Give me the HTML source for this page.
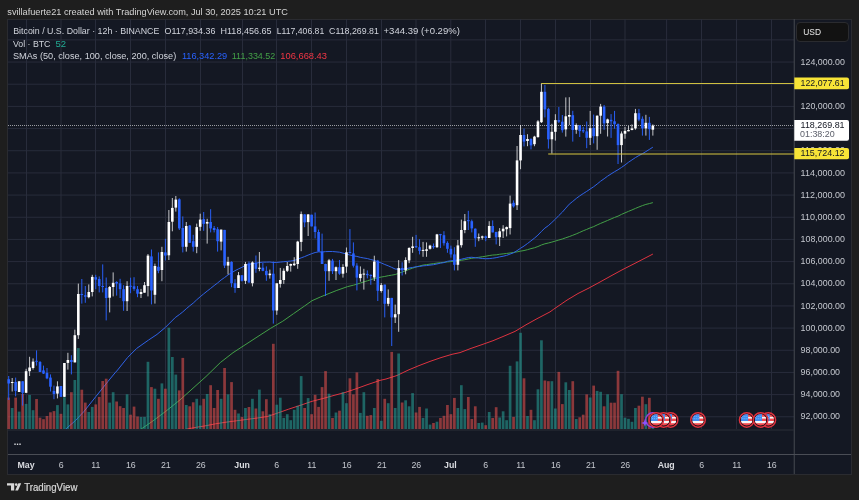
<!DOCTYPE html>
<html><head><meta charset="utf-8"><style>
*{margin:0;padding:0}
html,body{width:859px;height:500px;overflow:hidden;background:#1e1e1e}
svg text{font-family:"Liberation Sans",Arial,sans-serif}
</style></head><body>
<svg width="859" height="500" viewBox="0 0 859 500" style="position:absolute;left:0;top:0;display:block;will-change:transform">
<defs><clipPath id="pc"><rect x="8" y="19" width="786" height="410"/></clipPath></defs>
<rect x="7" y="19" width="845" height="456" fill="#2a2b30"/>
<rect x="8" y="20" width="843" height="454" fill="#141823"/>
<rect x="8" y="416.27" width="786" height="1" fill="#282c3b"/>
<rect x="8" y="394.1" width="786" height="1" fill="#282c3b"/>
<rect x="8" y="371.93" width="786" height="1" fill="#282c3b"/>
<rect x="8" y="349.76" width="786" height="1" fill="#282c3b"/>
<rect x="8" y="327.59" width="786" height="1" fill="#282c3b"/>
<rect x="8" y="305.42" width="786" height="1" fill="#282c3b"/>
<rect x="8" y="283.25" width="786" height="1" fill="#282c3b"/>
<rect x="8" y="261.08" width="786" height="1" fill="#282c3b"/>
<rect x="8" y="238.91" width="786" height="1" fill="#282c3b"/>
<rect x="8" y="216.74" width="786" height="1" fill="#282c3b"/>
<rect x="8" y="194.57" width="786" height="1" fill="#282c3b"/>
<rect x="8" y="172.4" width="786" height="1" fill="#282c3b"/>
<rect x="8" y="150.23" width="786" height="1" fill="#282c3b"/>
<rect x="8" y="128.06" width="786" height="1" fill="#282c3b"/>
<rect x="8" y="105.89" width="786" height="1" fill="#282c3b"/>
<rect x="8" y="83.72" width="786" height="1" fill="#282c3b"/>
<rect x="8" y="61.55" width="786" height="1" fill="#282c3b"/>
<rect x="8" y="39.38" width="786" height="1" fill="#282c3b"/>
<rect x="26" y="19" width="1" height="410" fill="#282c3b"/>
<rect x="60.5" y="19" width="1" height="410" fill="#282c3b"/>
<rect x="95" y="19" width="1" height="410" fill="#282c3b"/>
<rect x="130" y="19" width="1" height="410" fill="#282c3b"/>
<rect x="165" y="19" width="1" height="410" fill="#282c3b"/>
<rect x="200" y="19" width="1" height="410" fill="#282c3b"/>
<rect x="242" y="19" width="1" height="410" fill="#282c3b"/>
<rect x="276" y="19" width="1" height="410" fill="#282c3b"/>
<rect x="311" y="19" width="1" height="410" fill="#282c3b"/>
<rect x="346" y="19" width="1" height="410" fill="#282c3b"/>
<rect x="381" y="19" width="1" height="410" fill="#282c3b"/>
<rect x="415.5" y="19" width="1" height="410" fill="#282c3b"/>
<rect x="450.3" y="19" width="1" height="410" fill="#282c3b"/>
<rect x="485" y="19" width="1" height="410" fill="#282c3b"/>
<rect x="520" y="19" width="1" height="410" fill="#282c3b"/>
<rect x="555" y="19" width="1" height="410" fill="#282c3b"/>
<rect x="590" y="19" width="1" height="410" fill="#282c3b"/>
<rect x="624.5" y="19" width="1" height="410" fill="#282c3b"/>
<rect x="666.1" y="19" width="1" height="410" fill="#282c3b"/>
<rect x="701" y="19" width="1" height="410" fill="#282c3b"/>
<rect x="736" y="19" width="1" height="410" fill="#282c3b"/>
<rect x="771" y="19" width="1" height="410" fill="#282c3b"/>
<g clip-path="url(#pc)">
<polyline points="185.6,429.3 196.8,427.2 205,425.9 215.5,423.8 226,422.2 236.4,420.8 246.9,419.4 257.4,418 267.9,416.4 278.3,412.8 288.8,409.1 301,405.1 312,401.3 323,398.5 334,395.4 345,392.5 356,388.8 367,384.8 380,380.4 386,379 397,375.5 408,370.2 419,365.6 430,361.4 441,357.6 452,354.3 460,352.6 471,348.4 482,344.6 493,340.7 504,336.1 515,331.4 526,324.8 537,318.7 550,311.9 553.3,309.5 567,300.1 578,293.5 589,288 600,282 611,275.9 622,269.9 635,263.3 652.9,254.05" fill="none" stroke="#de3340" stroke-width="1" stroke-linejoin="round"/>
<polyline points="140.8,429.3 152,421.6 166,411.1 180,399.9 194,387.3 206,376.5 220.4,362.5 233,352.7 247,343.6 261,334.5 270.8,328.2 282.8,321.2 293.6,313.6 304.4,306.1 312,300.7 320.6,296.9 326,294.7 336.8,290.4 347.6,286.6 353.4,285.2 356.89,284.15 360.37,283.06 363.85,281.89 367.33,280.83 370.81,279.66 374.3,278.57 377.78,277.8 381.26,277.03 384.74,276.46 388.22,275.71 391.71,275.15 395.19,274.51 398.67,273.32 402.15,272.09 405.63,270.82 409.12,269.34 412.6,268.17 416.08,267.04 419.56,265.93 423.04,265.08 426.53,264.63 430.01,264.14 433.49,263.64 436.97,263.07 440.45,262.65 443.94,262.29 447.42,261.91 450.9,261.59 454.38,261.25 457.86,260.84 461.35,260.31 464.83,259.69 468.31,259.01 471.79,258.28 475.27,257.8 478.75,257.31 482.24,256.78 485.72,256.22 489.2,255.56 492.68,255.04 496.16,254.85 499.65,254.26 503.13,253.89 506.61,253.45 510.09,252.97 513.57,252.47 517.06,251.86 520.54,251.13 524.02,250.55 527.5,249.66 530.98,248.64 534.47,247.75 537.95,246.53 541.43,244.98 544.91,243.81 548.39,243 551.88,242.08 555.36,241.06 558.84,240 562.32,239 565.8,237.75 569.29,236.6 572.77,235.25 576.25,233.88 579.73,232.36 583.21,230.79 586.7,229.42 590.18,227.89 593.66,226.61 597.14,224.95 600.62,223.39 604.11,221.93 607.59,220.45 611.07,218.96 614.55,217.44 618.03,216.16 621.52,214.39 625,212.87 628.48,211.37 631.96,209.94 635.44,208.41 638.92,206.97 642.41,205.62 645.89,204.43 649.37,203.58 652.85,202.61" fill="none" stroke="#43a047" stroke-width="1" stroke-linejoin="round"/>
<polyline points="65.4,429.4 75.6,420.4 84,411.4 96,396.4 108,381.4 115,372.9 117.6,370 127.6,357.5 136.7,348.4 148.6,340 157,334.4 165.4,327.4 175.2,317.6 179.31,314.61 182.79,311.88 186.27,308.76 189.75,305.79 193.23,303.1 196.72,299.79 200.2,296.76 203.68,293.89 207.16,291.09 210.64,288.43 214.13,285.59 217.61,282.94 221.09,279.97 224.57,277.54 228.05,274.9 231.54,272.84 235.02,270.66 238.5,268.91 241.98,267.32 245.46,265.36 248.95,264.31 252.43,263.67 255.91,263.15 259.39,262.57 262.87,262.15 266.36,262.11 269.84,261.99 273.32,262.48 276.8,262.41 280.28,262.05 283.77,261.73 287.25,261.39 290.73,261 294.21,260.49 297.69,259.29 301.17,257.86 304.66,256.57 308.14,255.08 311.62,253.73 315.1,252.53 318.58,251.86 322.07,252.03 325.55,251.64 329.03,251.53 332.51,251.53 335.99,251.84 339.48,252.2 342.96,253.1 346.44,253.99 349.92,255.05 353.4,255.8 356.89,256.42 360.37,257.37 363.85,257.99 367.33,258.56 370.81,259.54 374.3,260.37 377.78,261.71 381.26,262.97 384.74,264.48 388.22,265.84 391.71,267.36 395.19,269.06 398.67,269.11 402.15,269.27 405.63,268.81 409.12,268.01 412.6,267.43 416.08,266.76 419.56,266.5 423.04,265.85 426.53,265.59 430.01,265.12 433.49,264.71 436.97,263.98 440.45,263.18 443.94,262.58 447.42,261.34 450.9,260.76 454.38,260.46 457.86,259.95 461.35,259.23 464.83,258.38 468.31,257.53 471.79,257.26 475.27,257.75 478.75,258.04 482.24,258.48 485.72,258.72 489.2,258.6 492.68,258.21 496.16,257.68 499.65,256.88 503.13,256.25 506.61,255.37 510.09,254.09 513.57,252.75 517.06,250.62 520.54,248.27 524.02,246.04 527.5,243.51 530.98,240.87 534.47,238.12 537.95,235.08 541.43,231.41 544.91,228.08 548.39,225.63 551.88,222.45 555.36,219.15 558.84,215.51 562.32,212.16 565.8,208.13 569.29,204.15 572.77,201.39 576.25,198.48 579.73,195.9 583.21,193.57 586.7,191.4 590.18,189.02 593.66,186.73 597.14,184.04 600.62,181.19 604.11,178.74 607.59,176.19 611.07,173.93 614.55,171.71 618.03,169.74 621.52,167.44 625,164.97 628.48,162.27 631.96,159.93 635.44,157.6 638.92,155.56 642.41,153.71 645.89,151.6 649.37,149.41 652.85,147.18" fill="none" stroke="#2f62e8" stroke-width="1" stroke-linejoin="round"/>
</g>
<rect x="7.34" y="397.6" width="2.7" height="31.4" fill="rgba(239,83,80,0.55)"/>
<rect x="10.82" y="408" width="2.7" height="21" fill="rgba(38,166,154,0.55)"/>
<rect x="14.3" y="397.6" width="2.7" height="31.4" fill="rgba(239,83,80,0.55)"/>
<rect x="17.79" y="411.6" width="2.7" height="17.4" fill="rgba(38,166,154,0.55)"/>
<rect x="21.27" y="394" width="2.7" height="35" fill="rgba(239,83,80,0.55)"/>
<rect x="24.75" y="403.9" width="2.7" height="25.1" fill="rgba(38,166,154,0.55)"/>
<rect x="28.23" y="394.9" width="2.7" height="34.1" fill="rgba(38,166,154,0.55)"/>
<rect x="31.71" y="410.2" width="2.7" height="18.8" fill="rgba(38,166,154,0.55)"/>
<rect x="35.2" y="399" width="2.7" height="30" fill="rgba(239,83,80,0.55)"/>
<rect x="38.68" y="417.7" width="2.7" height="11.3" fill="rgba(239,83,80,0.55)"/>
<rect x="42.16" y="419.2" width="2.7" height="9.8" fill="rgba(239,83,80,0.55)"/>
<rect x="45.64" y="416" width="2.7" height="13" fill="rgba(239,83,80,0.55)"/>
<rect x="49.12" y="412.3" width="2.7" height="16.7" fill="rgba(239,83,80,0.55)"/>
<rect x="52.61" y="411.1" width="2.7" height="17.9" fill="rgba(239,83,80,0.55)"/>
<rect x="56.09" y="405.1" width="2.7" height="23.9" fill="rgba(38,166,154,0.55)"/>
<rect x="59.57" y="413.8" width="2.7" height="15.2" fill="rgba(239,83,80,0.55)"/>
<rect x="63.05" y="397.2" width="2.7" height="31.8" fill="rgba(38,166,154,0.55)"/>
<rect x="66.53" y="404.4" width="2.7" height="24.6" fill="rgba(38,166,154,0.55)"/>
<rect x="70.02" y="392.2" width="2.7" height="36.8" fill="rgba(239,83,80,0.55)"/>
<rect x="73.5" y="380" width="2.7" height="49" fill="rgba(38,166,154,0.55)"/>
<rect x="76.98" y="348.1" width="2.7" height="80.9" fill="rgba(38,166,154,0.55)"/>
<rect x="80.46" y="389.7" width="2.7" height="39.3" fill="rgba(239,83,80,0.55)"/>
<rect x="83.94" y="402.6" width="2.7" height="26.4" fill="rgba(239,83,80,0.55)"/>
<rect x="87.43" y="412" width="2.7" height="17" fill="rgba(38,166,154,0.55)"/>
<rect x="90.91" y="406.9" width="2.7" height="22.1" fill="rgba(38,166,154,0.55)"/>
<rect x="94.39" y="404.4" width="2.7" height="24.6" fill="rgba(239,83,80,0.55)"/>
<rect x="97.87" y="396.9" width="2.7" height="32.1" fill="rgba(239,83,80,0.55)"/>
<rect x="101.35" y="381" width="2.7" height="48" fill="rgba(239,83,80,0.55)"/>
<rect x="104.84" y="378.7" width="2.7" height="50.3" fill="rgba(239,83,80,0.55)"/>
<rect x="108.32" y="402.6" width="2.7" height="26.4" fill="rgba(38,166,154,0.55)"/>
<rect x="111.8" y="392.2" width="2.7" height="36.8" fill="rgba(38,166,154,0.55)"/>
<rect x="115.28" y="401.5" width="2.7" height="27.5" fill="rgba(239,83,80,0.55)"/>
<rect x="118.76" y="406.2" width="2.7" height="22.8" fill="rgba(239,83,80,0.55)"/>
<rect x="122.24" y="408" width="2.7" height="21" fill="rgba(239,83,80,0.55)"/>
<rect x="125.73" y="394.3" width="2.7" height="34.7" fill="rgba(38,166,154,0.55)"/>
<rect x="129.21" y="414.7" width="2.7" height="14.3" fill="rgba(239,83,80,0.55)"/>
<rect x="132.69" y="406.6" width="2.7" height="22.4" fill="rgba(239,83,80,0.55)"/>
<rect x="136.17" y="416.5" width="2.7" height="12.5" fill="rgba(239,83,80,0.55)"/>
<rect x="139.65" y="417" width="2.7" height="12" fill="rgba(38,166,154,0.55)"/>
<rect x="143.14" y="416.9" width="2.7" height="12.1" fill="rgba(38,166,154,0.55)"/>
<rect x="146.62" y="361.8" width="2.7" height="67.2" fill="rgba(38,166,154,0.55)"/>
<rect x="150.1" y="387.1" width="2.7" height="41.9" fill="rgba(239,83,80,0.55)"/>
<rect x="153.58" y="388.7" width="2.7" height="40.3" fill="rgba(38,166,154,0.55)"/>
<rect x="157.06" y="398.8" width="2.7" height="30.2" fill="rgba(239,83,80,0.55)"/>
<rect x="160.55" y="383.4" width="2.7" height="45.6" fill="rgba(38,166,154,0.55)"/>
<rect x="164.03" y="388.7" width="2.7" height="40.3" fill="rgba(239,83,80,0.55)"/>
<rect x="167.51" y="327.7" width="2.7" height="101.3" fill="rgba(38,166,154,0.55)"/>
<rect x="170.99" y="357" width="2.7" height="72" fill="rgba(38,166,154,0.55)"/>
<rect x="174.47" y="374.6" width="2.7" height="54.4" fill="rgba(38,166,154,0.55)"/>
<rect x="177.96" y="390.4" width="2.7" height="38.6" fill="rgba(239,83,80,0.55)"/>
<rect x="181.44" y="357.9" width="2.7" height="71.1" fill="rgba(239,83,80,0.55)"/>
<rect x="184.92" y="405" width="2.7" height="24" fill="rgba(38,166,154,0.55)"/>
<rect x="188.4" y="406.3" width="2.7" height="22.7" fill="rgba(239,83,80,0.55)"/>
<rect x="191.88" y="402.3" width="2.7" height="26.7" fill="rgba(239,83,80,0.55)"/>
<rect x="195.37" y="398.8" width="2.7" height="30.2" fill="rgba(38,166,154,0.55)"/>
<rect x="198.85" y="405.4" width="2.7" height="23.6" fill="rgba(38,166,154,0.55)"/>
<rect x="202.33" y="398.8" width="2.7" height="30.2" fill="rgba(239,83,80,0.55)"/>
<rect x="205.81" y="394" width="2.7" height="35" fill="rgba(38,166,154,0.55)"/>
<rect x="209.29" y="385.2" width="2.7" height="43.8" fill="rgba(239,83,80,0.55)"/>
<rect x="212.78" y="408" width="2.7" height="21" fill="rgba(239,83,80,0.55)"/>
<rect x="216.26" y="390" width="2.7" height="39" fill="rgba(239,83,80,0.55)"/>
<rect x="219.74" y="398.8" width="2.7" height="30.2" fill="rgba(38,166,154,0.55)"/>
<rect x="223.22" y="368" width="2.7" height="61" fill="rgba(239,83,80,0.55)"/>
<rect x="226.7" y="394.4" width="2.7" height="34.6" fill="rgba(38,166,154,0.55)"/>
<rect x="230.19" y="382.1" width="2.7" height="46.9" fill="rgba(239,83,80,0.55)"/>
<rect x="233.67" y="409.8" width="2.7" height="19.2" fill="rgba(239,83,80,0.55)"/>
<rect x="237.15" y="413.5" width="2.7" height="15.5" fill="rgba(38,166,154,0.55)"/>
<rect x="240.63" y="416.9" width="2.7" height="12.1" fill="rgba(239,83,80,0.55)"/>
<rect x="244.11" y="408" width="2.7" height="21" fill="rgba(38,166,154,0.55)"/>
<rect x="247.6" y="407" width="2.7" height="22" fill="rgba(239,83,80,0.55)"/>
<rect x="251.08" y="398.8" width="2.7" height="30.2" fill="rgba(38,166,154,0.55)"/>
<rect x="254.56" y="408.5" width="2.7" height="20.5" fill="rgba(239,83,80,0.55)"/>
<rect x="258.04" y="389.6" width="2.7" height="39.4" fill="rgba(38,166,154,0.55)"/>
<rect x="261.52" y="411.3" width="2.7" height="17.7" fill="rgba(239,83,80,0.55)"/>
<rect x="265.01" y="399.2" width="2.7" height="29.8" fill="rgba(239,83,80,0.55)"/>
<rect x="268.49" y="414.2" width="2.7" height="14.8" fill="rgba(38,166,154,0.55)"/>
<rect x="271.97" y="343.8" width="2.7" height="85.2" fill="rgba(239,83,80,0.55)"/>
<rect x="275.45" y="404.7" width="2.7" height="24.3" fill="rgba(38,166,154,0.55)"/>
<rect x="278.93" y="397.7" width="2.7" height="31.3" fill="rgba(38,166,154,0.55)"/>
<rect x="282.42" y="418" width="2.7" height="11" fill="rgba(38,166,154,0.55)"/>
<rect x="285.9" y="414.2" width="2.7" height="14.8" fill="rgba(38,166,154,0.55)"/>
<rect x="289.38" y="420.2" width="2.7" height="8.8" fill="rgba(38,166,154,0.55)"/>
<rect x="292.86" y="409.8" width="2.7" height="19.2" fill="rgba(38,166,154,0.55)"/>
<rect x="296.34" y="405.8" width="2.7" height="23.2" fill="rgba(38,166,154,0.55)"/>
<rect x="299.82" y="376.1" width="2.7" height="52.9" fill="rgba(38,166,154,0.55)"/>
<rect x="303.31" y="408" width="2.7" height="21" fill="rgba(239,83,80,0.55)"/>
<rect x="306.79" y="398.1" width="2.7" height="30.9" fill="rgba(38,166,154,0.55)"/>
<rect x="310.27" y="414.2" width="2.7" height="14.8" fill="rgba(239,83,80,0.55)"/>
<rect x="313.75" y="394.8" width="2.7" height="34.2" fill="rgba(239,83,80,0.55)"/>
<rect x="317.23" y="406.9" width="2.7" height="22.1" fill="rgba(239,83,80,0.55)"/>
<rect x="320.72" y="387.1" width="2.7" height="41.9" fill="rgba(239,83,80,0.55)"/>
<rect x="324.2" y="371.1" width="2.7" height="57.9" fill="rgba(239,83,80,0.55)"/>
<rect x="327.68" y="393.7" width="2.7" height="35.3" fill="rgba(38,166,154,0.55)"/>
<rect x="331.16" y="418" width="2.7" height="11" fill="rgba(239,83,80,0.55)"/>
<rect x="334.64" y="412.5" width="2.7" height="16.5" fill="rgba(38,166,154,0.55)"/>
<rect x="338.13" y="410.7" width="2.7" height="18.3" fill="rgba(239,83,80,0.55)"/>
<rect x="341.61" y="392.2" width="2.7" height="36.8" fill="rgba(38,166,154,0.55)"/>
<rect x="345.09" y="403.2" width="2.7" height="25.8" fill="rgba(38,166,154,0.55)"/>
<rect x="348.57" y="378.3" width="2.7" height="50.7" fill="rgba(239,83,80,0.55)"/>
<rect x="352.05" y="394.4" width="2.7" height="34.6" fill="rgba(239,83,80,0.55)"/>
<rect x="355.54" y="372.4" width="2.7" height="56.6" fill="rgba(239,83,80,0.55)"/>
<rect x="359.02" y="412.9" width="2.7" height="16.1" fill="rgba(38,166,154,0.55)"/>
<rect x="362.5" y="392.2" width="2.7" height="36.8" fill="rgba(38,166,154,0.55)"/>
<rect x="365.98" y="415.8" width="2.7" height="13.2" fill="rgba(239,83,80,0.55)"/>
<rect x="369.46" y="415.1" width="2.7" height="13.9" fill="rgba(239,83,80,0.55)"/>
<rect x="372.95" y="408" width="2.7" height="21" fill="rgba(38,166,154,0.55)"/>
<rect x="376.43" y="379" width="2.7" height="50" fill="rgba(239,83,80,0.55)"/>
<rect x="379.91" y="420.8" width="2.7" height="8.2" fill="rgba(38,166,154,0.55)"/>
<rect x="383.39" y="398.8" width="2.7" height="30.2" fill="rgba(239,83,80,0.55)"/>
<rect x="386.87" y="403.2" width="2.7" height="25.8" fill="rgba(38,166,154,0.55)"/>
<rect x="390.36" y="351.9" width="2.7" height="77.1" fill="rgba(239,83,80,0.55)"/>
<rect x="393.84" y="408" width="2.7" height="21" fill="rgba(38,166,154,0.55)"/>
<rect x="397.32" y="353.5" width="2.7" height="75.5" fill="rgba(38,166,154,0.55)"/>
<rect x="400.8" y="402.5" width="2.7" height="26.5" fill="rgba(239,83,80,0.55)"/>
<rect x="404.28" y="400.3" width="2.7" height="28.7" fill="rgba(38,166,154,0.55)"/>
<rect x="407.77" y="406.3" width="2.7" height="22.7" fill="rgba(38,166,154,0.55)"/>
<rect x="411.25" y="393.1" width="2.7" height="35.9" fill="rgba(38,166,154,0.55)"/>
<rect x="414.73" y="412.5" width="2.7" height="16.5" fill="rgba(239,83,80,0.55)"/>
<rect x="418.21" y="406.9" width="2.7" height="22.1" fill="rgba(239,83,80,0.55)"/>
<rect x="421.69" y="418" width="2.7" height="11" fill="rgba(38,166,154,0.55)"/>
<rect x="425.18" y="408.5" width="2.7" height="20.5" fill="rgba(38,166,154,0.55)"/>
<rect x="428.66" y="424.6" width="2.7" height="4.4" fill="rgba(38,166,154,0.55)"/>
<rect x="432.14" y="423" width="2.7" height="6" fill="rgba(239,83,80,0.55)"/>
<rect x="435.62" y="421.7" width="2.7" height="7.3" fill="rgba(38,166,154,0.55)"/>
<rect x="439.1" y="418" width="2.7" height="11" fill="rgba(239,83,80,0.55)"/>
<rect x="442.59" y="415.8" width="2.7" height="13.2" fill="rgba(239,83,80,0.55)"/>
<rect x="446.07" y="405" width="2.7" height="24" fill="rgba(239,83,80,0.55)"/>
<rect x="449.55" y="414.2" width="2.7" height="14.8" fill="rgba(239,83,80,0.55)"/>
<rect x="453.03" y="397.9" width="2.7" height="31.1" fill="rgba(239,83,80,0.55)"/>
<rect x="456.51" y="408" width="2.7" height="21" fill="rgba(38,166,154,0.55)"/>
<rect x="460" y="385.2" width="2.7" height="43.8" fill="rgba(38,166,154,0.55)"/>
<rect x="463.48" y="409.1" width="2.7" height="19.9" fill="rgba(38,166,154,0.55)"/>
<rect x="466.96" y="397" width="2.7" height="32" fill="rgba(239,83,80,0.55)"/>
<rect x="470.44" y="419" width="2.7" height="10" fill="rgba(239,83,80,0.55)"/>
<rect x="473.92" y="406.3" width="2.7" height="22.7" fill="rgba(239,83,80,0.55)"/>
<rect x="477.4" y="423" width="2.7" height="6" fill="rgba(38,166,154,0.55)"/>
<rect x="480.89" y="422.6" width="2.7" height="6.4" fill="rgba(38,166,154,0.55)"/>
<rect x="484.37" y="425.2" width="2.7" height="3.8" fill="rgba(239,83,80,0.55)"/>
<rect x="487.85" y="412" width="2.7" height="17" fill="rgba(38,166,154,0.55)"/>
<rect x="491.33" y="418" width="2.7" height="11" fill="rgba(239,83,80,0.55)"/>
<rect x="494.81" y="407.2" width="2.7" height="21.8" fill="rgba(239,83,80,0.55)"/>
<rect x="498.3" y="417.5" width="2.7" height="11.5" fill="rgba(38,166,154,0.55)"/>
<rect x="501.78" y="411.3" width="2.7" height="17.7" fill="rgba(38,166,154,0.55)"/>
<rect x="505.26" y="420.2" width="2.7" height="8.8" fill="rgba(38,166,154,0.55)"/>
<rect x="508.74" y="365.8" width="2.7" height="63.2" fill="rgba(38,166,154,0.55)"/>
<rect x="512.22" y="416.9" width="2.7" height="12.1" fill="rgba(239,83,80,0.55)"/>
<rect x="515.71" y="361.4" width="2.7" height="67.6" fill="rgba(38,166,154,0.55)"/>
<rect x="519.19" y="332.8" width="2.7" height="96.2" fill="rgba(38,166,154,0.55)"/>
<rect x="522.67" y="378.3" width="2.7" height="50.7" fill="rgba(239,83,80,0.55)"/>
<rect x="526.15" y="416" width="2.7" height="13" fill="rgba(38,166,154,0.55)"/>
<rect x="529.63" y="409.8" width="2.7" height="19.2" fill="rgba(239,83,80,0.55)"/>
<rect x="533.12" y="420.2" width="2.7" height="8.8" fill="rgba(38,166,154,0.55)"/>
<rect x="536.6" y="389.3" width="2.7" height="39.7" fill="rgba(38,166,154,0.55)"/>
<rect x="540.08" y="340.3" width="2.7" height="88.7" fill="rgba(38,166,154,0.55)"/>
<rect x="543.56" y="380.5" width="2.7" height="48.5" fill="rgba(239,83,80,0.55)"/>
<rect x="547.04" y="381.2" width="2.7" height="47.8" fill="rgba(239,83,80,0.55)"/>
<rect x="550.53" y="381.2" width="2.7" height="47.8" fill="rgba(38,166,154,0.55)"/>
<rect x="554.01" y="408.5" width="2.7" height="20.5" fill="rgba(38,166,154,0.55)"/>
<rect x="557.49" y="371.9" width="2.7" height="57.1" fill="rgba(239,83,80,0.55)"/>
<rect x="560.97" y="404.1" width="2.7" height="24.9" fill="rgba(239,83,80,0.55)"/>
<rect x="564.45" y="382.3" width="2.7" height="46.7" fill="rgba(38,166,154,0.55)"/>
<rect x="567.94" y="390" width="2.7" height="39" fill="rgba(38,166,154,0.55)"/>
<rect x="571.42" y="381.2" width="2.7" height="47.8" fill="rgba(239,83,80,0.55)"/>
<rect x="574.9" y="419" width="2.7" height="10" fill="rgba(38,166,154,0.55)"/>
<rect x="578.38" y="417.3" width="2.7" height="11.7" fill="rgba(239,83,80,0.55)"/>
<rect x="581.86" y="414.7" width="2.7" height="14.3" fill="rgba(239,83,80,0.55)"/>
<rect x="585.35" y="394.4" width="2.7" height="34.6" fill="rgba(239,83,80,0.55)"/>
<rect x="588.83" y="397.5" width="2.7" height="31.5" fill="rgba(38,166,154,0.55)"/>
<rect x="592.31" y="385.6" width="2.7" height="43.4" fill="rgba(239,83,80,0.55)"/>
<rect x="595.79" y="390.9" width="2.7" height="38.1" fill="rgba(38,166,154,0.55)"/>
<rect x="599.27" y="391.8" width="2.7" height="37.2" fill="rgba(38,166,154,0.55)"/>
<rect x="602.76" y="406.3" width="2.7" height="22.7" fill="rgba(239,83,80,0.55)"/>
<rect x="606.24" y="394.3" width="2.7" height="34.7" fill="rgba(38,166,154,0.55)"/>
<rect x="609.72" y="402.7" width="2.7" height="26.3" fill="rgba(239,83,80,0.55)"/>
<rect x="613.2" y="402.7" width="2.7" height="26.3" fill="rgba(239,83,80,0.55)"/>
<rect x="616.68" y="370.8" width="2.7" height="58.2" fill="rgba(239,83,80,0.55)"/>
<rect x="620.17" y="394.2" width="2.7" height="34.8" fill="rgba(38,166,154,0.55)"/>
<rect x="623.65" y="417.7" width="2.7" height="11.3" fill="rgba(38,166,154,0.55)"/>
<rect x="627.13" y="418.8" width="2.7" height="10.2" fill="rgba(38,166,154,0.55)"/>
<rect x="630.61" y="421.8" width="2.7" height="7.2" fill="rgba(38,166,154,0.55)"/>
<rect x="634.09" y="408" width="2.7" height="21" fill="rgba(38,166,154,0.55)"/>
<rect x="637.57" y="405.7" width="2.7" height="23.3" fill="rgba(239,83,80,0.55)"/>
<rect x="641.06" y="396.7" width="2.7" height="32.3" fill="rgba(239,83,80,0.55)"/>
<rect x="644.54" y="404.2" width="2.7" height="24.8" fill="rgba(38,166,154,0.55)"/>
<rect x="648.02" y="397.8" width="2.7" height="31.2" fill="rgba(239,83,80,0.55)"/>
<rect x="651.5" y="420" width="2.7" height="9" fill="rgba(38,166,154,0.55)"/>
<line x1="8" y1="125.5" x2="794" y2="125.5" stroke="#9a9ca2" stroke-width="1" stroke-dasharray="1 1"/>
<rect x="8.19" y="376" width="1" height="24" fill="rgba(41,98,255,0.95)"/>
<rect x="7.39" y="379.2" width="2.6" height="4.3" fill="#2962ff"/>
<rect x="11.67" y="378" width="1" height="13.5" fill="rgba(255,255,255,0.75)"/>
<rect x="10.87" y="382" width="2.6" height="1" fill="#ffffff"/>
<rect x="15.15" y="377.6" width="1" height="18.7" fill="rgba(41,98,255,0.95)"/>
<rect x="14.35" y="381.9" width="2.6" height="9" fill="#2962ff"/>
<rect x="18.64" y="381" width="1" height="11" fill="rgba(255,255,255,0.75)"/>
<rect x="17.84" y="381.3" width="2.6" height="10.7" fill="#ffffff"/>
<rect x="22.12" y="381" width="1" height="24.6" fill="rgba(41,98,255,0.95)"/>
<rect x="21.32" y="381.3" width="2.6" height="11.5" fill="#2962ff"/>
<rect x="25.6" y="368.8" width="1" height="24" fill="rgba(255,255,255,0.75)"/>
<rect x="24.8" y="371.2" width="2.6" height="21.6" fill="#ffffff"/>
<rect x="29.08" y="356.8" width="1" height="19.2" fill="rgba(255,255,255,0.75)"/>
<rect x="28.28" y="367.5" width="2.6" height="3.7" fill="#ffffff"/>
<rect x="32.56" y="358.4" width="1" height="11.2" fill="rgba(255,255,255,0.75)"/>
<rect x="31.76" y="361.6" width="2.6" height="6.4" fill="#ffffff"/>
<rect x="36.05" y="350.4" width="1" height="15.2" fill="rgba(41,98,255,0.95)"/>
<rect x="35.25" y="360.8" width="2.6" height="1" fill="#2962ff"/>
<rect x="39.53" y="361" width="1" height="11" fill="rgba(41,98,255,0.95)"/>
<rect x="38.73" y="362" width="2.6" height="10" fill="#2962ff"/>
<rect x="43.01" y="365.6" width="1" height="8.4" fill="rgba(41,98,255,0.95)"/>
<rect x="42.21" y="370.4" width="2.6" height="3.2" fill="#2962ff"/>
<rect x="46.49" y="368" width="1" height="11.2" fill="rgba(41,98,255,0.95)"/>
<rect x="45.69" y="372.8" width="2.6" height="5.6" fill="#2962ff"/>
<rect x="49.97" y="374.4" width="1" height="17.1" fill="rgba(41,98,255,0.95)"/>
<rect x="49.17" y="377.6" width="2.6" height="9.1" fill="#2962ff"/>
<rect x="53.46" y="385.6" width="1" height="13.6" fill="rgba(41,98,255,0.95)"/>
<rect x="52.66" y="390.9" width="2.6" height="3.1" fill="#2962ff"/>
<rect x="56.94" y="381.3" width="1" height="17.1" fill="rgba(255,255,255,0.75)"/>
<rect x="56.14" y="386.4" width="2.6" height="7.2" fill="#ffffff"/>
<rect x="60.42" y="386" width="1" height="11" fill="rgba(41,98,255,0.95)"/>
<rect x="59.62" y="386" width="2.6" height="10.8" fill="#2962ff"/>
<rect x="63.9" y="363" width="1" height="34" fill="rgba(255,255,255,0.75)"/>
<rect x="63.1" y="363" width="2.6" height="33.8" fill="#ffffff"/>
<rect x="67.38" y="352.8" width="1" height="16.8" fill="rgba(255,255,255,0.75)"/>
<rect x="66.58" y="360" width="2.6" height="2.9" fill="#ffffff"/>
<rect x="70.87" y="355.2" width="1" height="19.2" fill="rgba(41,98,255,0.95)"/>
<rect x="70.07" y="360" width="2.6" height="2" fill="#2962ff"/>
<rect x="74.35" y="329.6" width="1" height="32.8" fill="rgba(255,255,255,0.75)"/>
<rect x="73.55" y="335.2" width="2.6" height="27.2" fill="#ffffff"/>
<rect x="77.83" y="283.6" width="1" height="55.3" fill="rgba(255,255,255,0.75)"/>
<rect x="77.03" y="294" width="2.6" height="41.2" fill="#ffffff"/>
<rect x="81.31" y="279" width="1" height="24.6" fill="rgba(41,98,255,0.95)"/>
<rect x="80.51" y="294" width="2.6" height="1" fill="#2962ff"/>
<rect x="84.79" y="286" width="1" height="16.8" fill="rgba(41,98,255,0.95)"/>
<rect x="83.99" y="295.3" width="2.6" height="1.4" fill="#2962ff"/>
<rect x="88.28" y="284.4" width="1" height="13.9" fill="rgba(255,255,255,0.75)"/>
<rect x="87.48" y="292" width="2.6" height="5.2" fill="#ffffff"/>
<rect x="91.76" y="274.8" width="1" height="21.6" fill="rgba(255,255,255,0.75)"/>
<rect x="90.96" y="276.9" width="2.6" height="15.1" fill="#ffffff"/>
<rect x="95.24" y="274.8" width="1" height="14.4" fill="rgba(41,98,255,0.95)"/>
<rect x="94.44" y="277.2" width="2.6" height="2.4" fill="#2962ff"/>
<rect x="98.72" y="276.4" width="1" height="16" fill="rgba(41,98,255,0.95)"/>
<rect x="97.92" y="279" width="2.6" height="7" fill="#2962ff"/>
<rect x="102.2" y="264.4" width="1" height="28" fill="rgba(41,98,255,0.95)"/>
<rect x="101.4" y="286" width="2.6" height="1" fill="#2962ff"/>
<rect x="105.69" y="277.5" width="1" height="42.9" fill="rgba(41,98,255,0.95)"/>
<rect x="104.89" y="288" width="2.6" height="10" fill="#2962ff"/>
<rect x="109.17" y="286" width="1" height="26.4" fill="rgba(255,255,255,0.75)"/>
<rect x="108.37" y="287" width="2.6" height="10.7" fill="#ffffff"/>
<rect x="112.65" y="272.4" width="1" height="24" fill="rgba(255,255,255,0.75)"/>
<rect x="111.85" y="282.8" width="2.6" height="4.2" fill="#ffffff"/>
<rect x="116.13" y="281.2" width="1" height="14.4" fill="rgba(41,98,255,0.95)"/>
<rect x="115.33" y="282" width="2.6" height="1.6" fill="#2962ff"/>
<rect x="119.61" y="278.8" width="1" height="19.2" fill="rgba(41,98,255,0.95)"/>
<rect x="118.81" y="283.3" width="2.6" height="5.9" fill="#2962ff"/>
<rect x="123.09" y="285.2" width="1" height="25.6" fill="rgba(41,98,255,0.95)"/>
<rect x="122.29" y="289.2" width="2.6" height="12" fill="#2962ff"/>
<rect x="126.58" y="281.2" width="1" height="29.8" fill="rgba(255,255,255,0.75)"/>
<rect x="125.78" y="286" width="2.6" height="15.2" fill="#ffffff"/>
<rect x="130.06" y="277.7" width="1" height="15.5" fill="rgba(41,98,255,0.95)"/>
<rect x="129.26" y="285.7" width="2.6" height="1.1" fill="#2962ff"/>
<rect x="133.54" y="277.2" width="1" height="13.6" fill="rgba(41,98,255,0.95)"/>
<rect x="132.74" y="286.3" width="2.6" height="2.6" fill="#2962ff"/>
<rect x="137.02" y="286" width="1" height="11.2" fill="rgba(41,98,255,0.95)"/>
<rect x="136.22" y="289.2" width="2.6" height="4.5" fill="#2962ff"/>
<rect x="140.5" y="288.9" width="1" height="9.1" fill="rgba(255,255,255,0.75)"/>
<rect x="139.7" y="292" width="2.6" height="2" fill="#ffffff"/>
<rect x="143.99" y="282" width="1" height="10.7" fill="rgba(255,255,255,0.75)"/>
<rect x="143.19" y="285.2" width="2.6" height="7.5" fill="#ffffff"/>
<rect x="147.47" y="254" width="1" height="42.4" fill="rgba(255,255,255,0.75)"/>
<rect x="146.67" y="255.6" width="2.6" height="30.4" fill="#ffffff"/>
<rect x="150.95" y="249.5" width="1" height="54.9" fill="rgba(41,98,255,0.95)"/>
<rect x="150.15" y="256.4" width="2.6" height="34.1" fill="#2962ff"/>
<rect x="154.43" y="263.6" width="1" height="40" fill="rgba(255,255,255,0.75)"/>
<rect x="153.63" y="266" width="2.6" height="28.8" fill="#ffffff"/>
<rect x="157.91" y="252.4" width="1" height="20.8" fill="rgba(41,98,255,0.95)"/>
<rect x="157.11" y="266.8" width="2.6" height="4" fill="#2962ff"/>
<rect x="161.4" y="246.8" width="1" height="34.4" fill="rgba(255,255,255,0.75)"/>
<rect x="160.6" y="252" width="2.6" height="18" fill="#ffffff"/>
<rect x="164.88" y="238.8" width="1" height="21.6" fill="rgba(41,98,255,0.95)"/>
<rect x="164.08" y="252.4" width="2.6" height="3.2" fill="#2962ff"/>
<rect x="168.36" y="210" width="1" height="50" fill="rgba(255,255,255,0.75)"/>
<rect x="167.56" y="222" width="2.6" height="33.3" fill="#ffffff"/>
<rect x="171.84" y="198" width="1" height="33.3" fill="rgba(255,255,255,0.75)"/>
<rect x="171.04" y="207.9" width="2.6" height="13.8" fill="#ffffff"/>
<rect x="175.32" y="196" width="1" height="15.6" fill="rgba(255,255,255,0.75)"/>
<rect x="174.52" y="199.6" width="2.6" height="8" fill="#ffffff"/>
<rect x="178.81" y="198.3" width="1" height="31.7" fill="rgba(41,98,255,0.95)"/>
<rect x="178.01" y="199.3" width="2.6" height="29.1" fill="#2962ff"/>
<rect x="182.29" y="216.4" width="1" height="36" fill="rgba(41,98,255,0.95)"/>
<rect x="181.49" y="228" width="2.6" height="18.8" fill="#2962ff"/>
<rect x="185.77" y="222" width="1" height="29.6" fill="rgba(255,255,255,0.75)"/>
<rect x="184.97" y="226" width="2.6" height="20.8" fill="#ffffff"/>
<rect x="189.25" y="225" width="1" height="18" fill="rgba(41,98,255,0.95)"/>
<rect x="188.45" y="225.5" width="2.6" height="17.3" fill="#2962ff"/>
<rect x="192.73" y="234.8" width="1" height="16.8" fill="rgba(41,98,255,0.95)"/>
<rect x="191.93" y="241.2" width="2.6" height="5.6" fill="#2962ff"/>
<rect x="196.22" y="223.6" width="1" height="29.6" fill="rgba(255,255,255,0.75)"/>
<rect x="195.42" y="227.1" width="2.6" height="19.7" fill="#ffffff"/>
<rect x="199.7" y="213.7" width="1" height="17.1" fill="rgba(255,255,255,0.75)"/>
<rect x="198.9" y="219.6" width="2.6" height="7.2" fill="#ffffff"/>
<rect x="203.18" y="212" width="1" height="18.8" fill="rgba(41,98,255,0.95)"/>
<rect x="202.38" y="219.1" width="2.6" height="4.8" fill="#2962ff"/>
<rect x="206.66" y="218.8" width="1" height="24.8" fill="rgba(255,255,255,0.75)"/>
<rect x="205.86" y="222" width="2.6" height="1.6" fill="#ffffff"/>
<rect x="210.14" y="209.2" width="1" height="23.2" fill="rgba(41,98,255,0.95)"/>
<rect x="209.34" y="222" width="2.6" height="6.4" fill="#2962ff"/>
<rect x="213.63" y="226" width="1" height="6.4" fill="rgba(41,98,255,0.95)"/>
<rect x="212.83" y="228" width="2.6" height="2" fill="#2962ff"/>
<rect x="217.11" y="227.1" width="1" height="24.5" fill="rgba(41,98,255,0.95)"/>
<rect x="216.31" y="229.2" width="2.6" height="12" fill="#2962ff"/>
<rect x="220.59" y="229.6" width="1" height="20.8" fill="rgba(255,255,255,0.75)"/>
<rect x="219.79" y="229.6" width="2.6" height="12" fill="#ffffff"/>
<rect x="224.07" y="229.9" width="1" height="38.1" fill="rgba(41,98,255,0.95)"/>
<rect x="223.27" y="229.9" width="2.6" height="35.7" fill="#2962ff"/>
<rect x="227.55" y="256.8" width="1" height="17.6" fill="rgba(255,255,255,0.75)"/>
<rect x="226.75" y="261.9" width="2.6" height="3.7" fill="#ffffff"/>
<rect x="231.04" y="261.3" width="1" height="25.9" fill="rgba(41,98,255,0.95)"/>
<rect x="230.24" y="261.9" width="2.6" height="21.3" fill="#2962ff"/>
<rect x="234.52" y="279.2" width="1" height="13.6" fill="rgba(41,98,255,0.95)"/>
<rect x="233.72" y="283.2" width="2.6" height="4.8" fill="#2962ff"/>
<rect x="238" y="272" width="1" height="16" fill="rgba(255,255,255,0.75)"/>
<rect x="237.2" y="275.2" width="2.6" height="12.8" fill="#ffffff"/>
<rect x="241.48" y="275.2" width="1" height="6.3" fill="rgba(41,98,255,0.95)"/>
<rect x="240.68" y="275.2" width="2.6" height="5.6" fill="#2962ff"/>
<rect x="244.96" y="261.9" width="1" height="22.1" fill="rgba(255,255,255,0.75)"/>
<rect x="244.16" y="264" width="2.6" height="16.8" fill="#ffffff"/>
<rect x="248.45" y="261.5" width="1" height="21.7" fill="rgba(41,98,255,0.95)"/>
<rect x="247.65" y="263.5" width="2.6" height="18.9" fill="#2962ff"/>
<rect x="251.93" y="261.3" width="1" height="25.1" fill="rgba(255,255,255,0.75)"/>
<rect x="251.13" y="262.4" width="2.6" height="20.8" fill="#ffffff"/>
<rect x="255.41" y="255.5" width="1" height="17.3" fill="rgba(41,98,255,0.95)"/>
<rect x="254.61" y="262.9" width="2.6" height="5.9" fill="#2962ff"/>
<rect x="258.89" y="252" width="1" height="19.2" fill="rgba(255,255,255,0.75)"/>
<rect x="258.09" y="267.7" width="2.6" height="1.1" fill="#ffffff"/>
<rect x="262.37" y="262.9" width="1" height="8.3" fill="rgba(41,98,255,0.95)"/>
<rect x="261.57" y="267.7" width="2.6" height="3.2" fill="#2962ff"/>
<rect x="265.86" y="266.4" width="1" height="14.4" fill="rgba(41,98,255,0.95)"/>
<rect x="265.06" y="270.9" width="2.6" height="4.3" fill="#2962ff"/>
<rect x="269.34" y="269.6" width="1" height="9" fill="rgba(255,255,255,0.75)"/>
<rect x="268.54" y="273.6" width="2.6" height="1.6" fill="#ffffff"/>
<rect x="272.82" y="261.5" width="1" height="62.1" fill="rgba(41,98,255,0.95)"/>
<rect x="272.02" y="273.7" width="2.6" height="36.8" fill="#2962ff"/>
<rect x="276.3" y="283.3" width="1" height="31.5" fill="rgba(255,255,255,0.75)"/>
<rect x="275.5" y="283.3" width="2.6" height="27.2" fill="#ffffff"/>
<rect x="279.78" y="267.9" width="1" height="19.7" fill="rgba(255,255,255,0.75)"/>
<rect x="278.98" y="280" width="2.6" height="3.9" fill="#ffffff"/>
<rect x="283.27" y="268.4" width="1" height="15.5" fill="rgba(255,255,255,0.75)"/>
<rect x="282.47" y="270.8" width="2.6" height="9.2" fill="#ffffff"/>
<rect x="286.75" y="262" width="1" height="10" fill="rgba(255,255,255,0.75)"/>
<rect x="285.95" y="266" width="2.6" height="4.8" fill="#ffffff"/>
<rect x="290.23" y="263.6" width="1" height="8" fill="rgba(255,255,255,0.75)"/>
<rect x="289.43" y="264" width="2.6" height="1.7" fill="#ffffff"/>
<rect x="293.71" y="257.2" width="1" height="8.8" fill="rgba(255,255,255,0.75)"/>
<rect x="292.91" y="263.6" width="2.6" height="1.6" fill="#ffffff"/>
<rect x="297.19" y="240.8" width="1" height="28" fill="rgba(255,255,255,0.75)"/>
<rect x="296.39" y="241.6" width="2.6" height="22.4" fill="#ffffff"/>
<rect x="300.67" y="211.5" width="1" height="39.7" fill="rgba(255,255,255,0.75)"/>
<rect x="299.87" y="214.1" width="2.6" height="27.8" fill="#ffffff"/>
<rect x="304.16" y="214.1" width="1" height="13.1" fill="rgba(41,98,255,0.95)"/>
<rect x="303.36" y="214.4" width="2.6" height="8" fill="#2962ff"/>
<rect x="307.64" y="214.1" width="1" height="21.9" fill="rgba(255,255,255,0.75)"/>
<rect x="306.84" y="214.4" width="2.6" height="7.7" fill="#ffffff"/>
<rect x="311.12" y="214.7" width="1" height="11.7" fill="rgba(41,98,255,0.95)"/>
<rect x="310.32" y="214.7" width="2.6" height="11.7" fill="#2962ff"/>
<rect x="314.6" y="212.5" width="1" height="25.9" fill="rgba(41,98,255,0.95)"/>
<rect x="313.8" y="226.4" width="2.6" height="5.6" fill="#2962ff"/>
<rect x="318.08" y="229.6" width="1" height="21.9" fill="rgba(41,98,255,0.95)"/>
<rect x="317.28" y="232" width="2.6" height="19.5" fill="#2962ff"/>
<rect x="321.57" y="233.6" width="1" height="30.4" fill="rgba(41,98,255,0.95)"/>
<rect x="320.77" y="251.5" width="2.6" height="12.5" fill="#2962ff"/>
<rect x="325.05" y="263.7" width="1" height="32.3" fill="rgba(41,98,255,0.95)"/>
<rect x="324.25" y="264" width="2.6" height="7.2" fill="#2962ff"/>
<rect x="328.53" y="258.9" width="1" height="21.9" fill="rgba(255,255,255,0.75)"/>
<rect x="327.73" y="260.3" width="2.6" height="10.9" fill="#ffffff"/>
<rect x="332.01" y="258.9" width="1" height="15.1" fill="rgba(41,98,255,0.95)"/>
<rect x="331.21" y="260.6" width="2.6" height="10.6" fill="#2962ff"/>
<rect x="335.49" y="266.4" width="1" height="13.6" fill="rgba(255,255,255,0.75)"/>
<rect x="334.69" y="267.2" width="2.6" height="4" fill="#ffffff"/>
<rect x="338.98" y="260" width="1" height="14.8" fill="rgba(41,98,255,0.95)"/>
<rect x="338.18" y="267.2" width="2.6" height="6.5" fill="#2962ff"/>
<rect x="342.46" y="264.2" width="1" height="13.4" fill="rgba(255,255,255,0.75)"/>
<rect x="341.66" y="267" width="2.6" height="6.7" fill="#ffffff"/>
<rect x="345.94" y="247.5" width="1" height="25.3" fill="rgba(255,255,255,0.75)"/>
<rect x="345.14" y="252.3" width="2.6" height="14.3" fill="#ffffff"/>
<rect x="349.42" y="229.1" width="1" height="24.5" fill="rgba(41,98,255,0.95)"/>
<rect x="348.62" y="252" width="2.6" height="1" fill="#2962ff"/>
<rect x="352.9" y="242.4" width="1" height="25.1" fill="rgba(41,98,255,0.95)"/>
<rect x="352.1" y="253.4" width="2.6" height="12.3" fill="#2962ff"/>
<rect x="356.39" y="263.2" width="1" height="27.2" fill="rgba(41,98,255,0.95)"/>
<rect x="355.59" y="265.6" width="2.6" height="12" fill="#2962ff"/>
<rect x="359.87" y="266.4" width="1" height="15.2" fill="rgba(255,255,255,0.75)"/>
<rect x="359.07" y="273.9" width="2.6" height="4.2" fill="#ffffff"/>
<rect x="363.35" y="268.8" width="1" height="20.8" fill="rgba(255,255,255,0.75)"/>
<rect x="362.55" y="273.6" width="2.6" height="1" fill="#ffffff"/>
<rect x="366.83" y="270.4" width="1" height="8" fill="rgba(41,98,255,0.95)"/>
<rect x="366.03" y="273.9" width="2.6" height="1.3" fill="#2962ff"/>
<rect x="370.31" y="274.4" width="1" height="10.4" fill="rgba(41,98,255,0.95)"/>
<rect x="369.51" y="274.9" width="2.6" height="1.1" fill="#2962ff"/>
<rect x="373.8" y="255.7" width="1" height="25.3" fill="rgba(255,255,255,0.75)"/>
<rect x="373" y="261.5" width="2.6" height="16" fill="#ffffff"/>
<rect x="377.28" y="259.9" width="1" height="41.1" fill="rgba(41,98,255,0.95)"/>
<rect x="376.48" y="260.7" width="2.6" height="30.1" fill="#2962ff"/>
<rect x="380.76" y="283" width="1" height="9.6" fill="rgba(255,255,255,0.75)"/>
<rect x="379.96" y="285.1" width="2.6" height="5.9" fill="#ffffff"/>
<rect x="384.24" y="284.6" width="1" height="32.8" fill="rgba(41,98,255,0.95)"/>
<rect x="383.44" y="284.6" width="2.6" height="19.2" fill="#2962ff"/>
<rect x="387.72" y="289.4" width="1" height="16.8" fill="rgba(255,255,255,0.75)"/>
<rect x="386.92" y="297.9" width="2.6" height="5.9" fill="#ffffff"/>
<rect x="391.21" y="297.9" width="1" height="48.1" fill="rgba(41,98,255,0.95)"/>
<rect x="390.41" y="297.9" width="2.6" height="19.5" fill="#2962ff"/>
<rect x="394.69" y="304.6" width="1" height="18.4" fill="rgba(255,255,255,0.75)"/>
<rect x="393.89" y="314.2" width="2.6" height="3.2" fill="#ffffff"/>
<rect x="398.17" y="260.1" width="1" height="71.7" fill="rgba(255,255,255,0.75)"/>
<rect x="397.37" y="268.1" width="2.6" height="46.1" fill="#ffffff"/>
<rect x="401.65" y="262.3" width="1" height="13.2" fill="rgba(41,98,255,0.95)"/>
<rect x="400.85" y="268" width="2.6" height="2.3" fill="#2962ff"/>
<rect x="405.13" y="257.3" width="1" height="17" fill="rgba(255,255,255,0.75)"/>
<rect x="404.33" y="260" width="2.6" height="10.3" fill="#ffffff"/>
<rect x="408.62" y="247.2" width="1" height="16" fill="rgba(255,255,255,0.75)"/>
<rect x="407.82" y="248" width="2.6" height="12.4" fill="#ffffff"/>
<rect x="412.1" y="236.8" width="1" height="16" fill="rgba(255,255,255,0.75)"/>
<rect x="411.3" y="246.4" width="2.6" height="1.6" fill="#ffffff"/>
<rect x="415.58" y="234.9" width="1" height="13.1" fill="rgba(41,98,255,0.95)"/>
<rect x="414.78" y="246.1" width="2.6" height="1.1" fill="#2962ff"/>
<rect x="419.06" y="239.2" width="1" height="15.2" fill="rgba(41,98,255,0.95)"/>
<rect x="418.26" y="247.2" width="2.6" height="3.7" fill="#2962ff"/>
<rect x="422.54" y="241.9" width="1" height="14.9" fill="rgba(255,255,255,0.75)"/>
<rect x="421.74" y="249.9" width="2.6" height="1" fill="#ffffff"/>
<rect x="426.03" y="242.4" width="1" height="14.4" fill="rgba(255,255,255,0.75)"/>
<rect x="425.23" y="249.3" width="2.6" height="1.6" fill="#ffffff"/>
<rect x="429.51" y="244.8" width="1" height="4.8" fill="rgba(255,255,255,0.75)"/>
<rect x="428.71" y="245.6" width="2.6" height="3.2" fill="#ffffff"/>
<rect x="432.99" y="243.5" width="1" height="5.3" fill="rgba(41,98,255,0.95)"/>
<rect x="432.19" y="246.1" width="2.6" height="1.1" fill="#2962ff"/>
<rect x="436.47" y="233.9" width="1" height="14.1" fill="rgba(255,255,255,0.75)"/>
<rect x="435.67" y="234.4" width="2.6" height="12.8" fill="#ffffff"/>
<rect x="439.95" y="233.9" width="1" height="14.1" fill="rgba(41,98,255,0.95)"/>
<rect x="439.15" y="234.1" width="2.6" height="1.1" fill="#2962ff"/>
<rect x="443.44" y="231.2" width="1" height="14.4" fill="rgba(41,98,255,0.95)"/>
<rect x="442.64" y="235.2" width="2.6" height="8" fill="#2962ff"/>
<rect x="446.92" y="241.3" width="1" height="11.5" fill="rgba(41,98,255,0.95)"/>
<rect x="446.12" y="242.9" width="2.6" height="5.9" fill="#2962ff"/>
<rect x="450.4" y="245.6" width="1" height="12" fill="rgba(41,98,255,0.95)"/>
<rect x="449.6" y="248.8" width="2.6" height="5.6" fill="#2962ff"/>
<rect x="453.88" y="247.2" width="1" height="23.2" fill="rgba(41,98,255,0.95)"/>
<rect x="453.08" y="254.4" width="2.6" height="10.4" fill="#2962ff"/>
<rect x="457.36" y="240" width="1" height="30.4" fill="rgba(255,255,255,0.75)"/>
<rect x="456.56" y="245.4" width="2.6" height="19.4" fill="#ffffff"/>
<rect x="460.85" y="219.6" width="1" height="28" fill="rgba(255,255,255,0.75)"/>
<rect x="460.05" y="230" width="2.6" height="15.2" fill="#ffffff"/>
<rect x="464.33" y="214" width="1" height="19.2" fill="rgba(255,255,255,0.75)"/>
<rect x="463.53" y="221.2" width="2.6" height="8.8" fill="#ffffff"/>
<rect x="467.81" y="210.8" width="1" height="19.2" fill="rgba(41,98,255,0.95)"/>
<rect x="467.01" y="220.1" width="2.6" height="1.1" fill="#2962ff"/>
<rect x="471.29" y="219.6" width="1" height="12.8" fill="rgba(41,98,255,0.95)"/>
<rect x="470.49" y="221.2" width="2.6" height="7.2" fill="#2962ff"/>
<rect x="474.77" y="228.4" width="1" height="18.4" fill="rgba(41,98,255,0.95)"/>
<rect x="473.97" y="228.7" width="2.6" height="9.6" fill="#2962ff"/>
<rect x="478.25" y="233.5" width="1" height="7.7" fill="rgba(255,255,255,0.75)"/>
<rect x="477.45" y="237.2" width="2.6" height="1.1" fill="#ffffff"/>
<rect x="481.74" y="235.6" width="1" height="4" fill="rgba(255,255,255,0.75)"/>
<rect x="480.94" y="236.4" width="2.6" height="1.3" fill="#ffffff"/>
<rect x="485.22" y="235.6" width="1" height="5.6" fill="rgba(41,98,255,0.95)"/>
<rect x="484.42" y="236.4" width="2.6" height="1.6" fill="#2962ff"/>
<rect x="488.7" y="221.2" width="1" height="16.8" fill="rgba(255,255,255,0.75)"/>
<rect x="487.9" y="226" width="2.6" height="12" fill="#ffffff"/>
<rect x="492.18" y="220.4" width="1" height="12" fill="rgba(41,98,255,0.95)"/>
<rect x="491.38" y="226" width="2.6" height="6.4" fill="#2962ff"/>
<rect x="495.66" y="231.9" width="1" height="12.5" fill="rgba(41,98,255,0.95)"/>
<rect x="494.86" y="231.9" width="2.6" height="5.3" fill="#2962ff"/>
<rect x="499.15" y="228.1" width="1" height="17.9" fill="rgba(255,255,255,0.75)"/>
<rect x="498.35" y="231.3" width="2.6" height="5.9" fill="#ffffff"/>
<rect x="502.63" y="225.2" width="1" height="12.8" fill="rgba(255,255,255,0.75)"/>
<rect x="501.83" y="228.7" width="2.6" height="2.6" fill="#ffffff"/>
<rect x="506.11" y="226.5" width="1" height="9.9" fill="rgba(255,255,255,0.75)"/>
<rect x="505.31" y="227.1" width="2.6" height="2.1" fill="#ffffff"/>
<rect x="509.59" y="195.6" width="1" height="38.9" fill="rgba(255,255,255,0.75)"/>
<rect x="508.79" y="203.6" width="2.6" height="24.5" fill="#ffffff"/>
<rect x="513.07" y="200.4" width="1" height="7.2" fill="rgba(41,98,255,0.95)"/>
<rect x="512.27" y="202.8" width="2.6" height="3.6" fill="#2962ff"/>
<rect x="516.56" y="146" width="1" height="64" fill="rgba(255,255,255,0.75)"/>
<rect x="515.76" y="160.4" width="2.6" height="44.8" fill="#ffffff"/>
<rect x="520.04" y="125" width="1" height="44.2" fill="rgba(255,255,255,0.75)"/>
<rect x="519.24" y="135" width="2.6" height="25.4" fill="#ffffff"/>
<rect x="523.52" y="128.6" width="1" height="17.8" fill="rgba(41,98,255,0.95)"/>
<rect x="522.72" y="135" width="2.6" height="6.6" fill="#2962ff"/>
<rect x="527" y="134.2" width="1" height="12" fill="rgba(255,255,255,0.75)"/>
<rect x="526.2" y="139" width="2.6" height="2" fill="#ffffff"/>
<rect x="530.48" y="138.2" width="1" height="11.2" fill="rgba(41,98,255,0.95)"/>
<rect x="529.68" y="139" width="2.6" height="6.4" fill="#2962ff"/>
<rect x="533.97" y="135.8" width="1" height="10.4" fill="rgba(255,255,255,0.75)"/>
<rect x="533.17" y="136.6" width="2.6" height="7.6" fill="#ffffff"/>
<rect x="537.45" y="120.1" width="1" height="17.6" fill="rgba(255,255,255,0.75)"/>
<rect x="536.65" y="121.4" width="2.6" height="15.7" fill="#ffffff"/>
<rect x="540.93" y="83.4" width="1" height="39.6" fill="rgba(255,255,255,0.75)"/>
<rect x="540.13" y="91.8" width="2.6" height="30.4" fill="#ffffff"/>
<rect x="544.41" y="84.9" width="1" height="32.5" fill="rgba(41,98,255,0.95)"/>
<rect x="543.61" y="91.8" width="2.6" height="17.6" fill="#2962ff"/>
<rect x="547.89" y="107.8" width="1" height="40.8" fill="rgba(41,98,255,0.95)"/>
<rect x="547.09" y="108.9" width="2.6" height="30.4" fill="#2962ff"/>
<rect x="551.38" y="123.8" width="1" height="29.8" fill="rgba(255,255,255,0.75)"/>
<rect x="550.58" y="131.8" width="2.6" height="7.5" fill="#ffffff"/>
<rect x="554.86" y="114.2" width="1" height="26.4" fill="rgba(255,255,255,0.75)"/>
<rect x="554.06" y="120.1" width="2.6" height="11.7" fill="#ffffff"/>
<rect x="558.34" y="107" width="1" height="16" fill="rgba(41,98,255,0.95)"/>
<rect x="557.54" y="120.1" width="2.6" height="1.6" fill="#2962ff"/>
<rect x="561.82" y="115" width="1" height="17.6" fill="rgba(41,98,255,0.95)"/>
<rect x="561.02" y="121.7" width="2.6" height="8.5" fill="#2962ff"/>
<rect x="565.3" y="97.4" width="1" height="39.2" fill="rgba(255,255,255,0.75)"/>
<rect x="564.5" y="116.3" width="2.6" height="13.1" fill="#ffffff"/>
<rect x="568.79" y="97.2" width="1" height="27.8" fill="rgba(255,255,255,0.75)"/>
<rect x="567.99" y="115" width="2.6" height="1.7" fill="#ffffff"/>
<rect x="572.27" y="110.8" width="1" height="30.8" fill="rgba(41,98,255,0.95)"/>
<rect x="571.47" y="115.2" width="2.6" height="14.8" fill="#2962ff"/>
<rect x="575.75" y="123.4" width="1" height="10.4" fill="rgba(255,255,255,0.75)"/>
<rect x="574.95" y="125" width="2.6" height="4.8" fill="#ffffff"/>
<rect x="579.23" y="125.3" width="1" height="11.7" fill="rgba(41,98,255,0.95)"/>
<rect x="578.43" y="125.3" width="2.6" height="5.8" fill="#2962ff"/>
<rect x="582.71" y="126.9" width="1" height="6.1" fill="rgba(41,98,255,0.95)"/>
<rect x="581.91" y="130.1" width="2.6" height="1.3" fill="#2962ff"/>
<rect x="586.2" y="121.5" width="1" height="26.7" fill="rgba(41,98,255,0.95)"/>
<rect x="585.4" y="131.4" width="2.6" height="6.4" fill="#2962ff"/>
<rect x="589.68" y="110.9" width="1" height="34.1" fill="rgba(255,255,255,0.75)"/>
<rect x="588.88" y="128.2" width="2.6" height="9.6" fill="#ffffff"/>
<rect x="593.16" y="114.6" width="1" height="28.8" fill="rgba(41,98,255,0.95)"/>
<rect x="592.36" y="127.9" width="2.6" height="8.3" fill="#2962ff"/>
<rect x="596.64" y="115.4" width="1" height="34.4" fill="rgba(255,255,255,0.75)"/>
<rect x="595.84" y="115.7" width="2.6" height="20.5" fill="#ffffff"/>
<rect x="600.12" y="103.9" width="1" height="29.9" fill="rgba(255,255,255,0.75)"/>
<rect x="599.32" y="106.6" width="2.6" height="9.1" fill="#ffffff"/>
<rect x="603.61" y="105" width="1" height="24.8" fill="rgba(41,98,255,0.95)"/>
<rect x="602.81" y="106.6" width="2.6" height="16.8" fill="#2962ff"/>
<rect x="607.09" y="118.6" width="1" height="17.9" fill="rgba(255,255,255,0.75)"/>
<rect x="606.29" y="119.4" width="2.6" height="3.7" fill="#ffffff"/>
<rect x="610.57" y="114.1" width="1" height="23.8" fill="rgba(41,98,255,0.95)"/>
<rect x="609.77" y="119.8" width="2.6" height="1.5" fill="#2962ff"/>
<rect x="614.05" y="110.9" width="1" height="17.8" fill="rgba(41,98,255,0.95)"/>
<rect x="613.25" y="121.3" width="2.6" height="2.9" fill="#2962ff"/>
<rect x="617.53" y="123.4" width="1" height="40.6" fill="rgba(41,98,255,0.95)"/>
<rect x="616.73" y="124.1" width="2.6" height="21" fill="#2962ff"/>
<rect x="621.02" y="131.4" width="1" height="31.1" fill="rgba(255,255,255,0.75)"/>
<rect x="620.22" y="133.5" width="2.6" height="11.6" fill="#ffffff"/>
<rect x="624.5" y="126.9" width="1" height="11.8" fill="rgba(255,255,255,0.75)"/>
<rect x="623.7" y="130.9" width="2.6" height="2.8" fill="#ffffff"/>
<rect x="627.98" y="126" width="1" height="5.3" fill="rgba(255,255,255,0.75)"/>
<rect x="627.18" y="130" width="2.6" height="1.3" fill="#ffffff"/>
<rect x="631.46" y="124.4" width="1" height="5.9" fill="rgba(255,255,255,0.75)"/>
<rect x="630.66" y="128.4" width="2.6" height="1.6" fill="#ffffff"/>
<rect x="634.94" y="108.9" width="1" height="20.8" fill="rgba(255,255,255,0.75)"/>
<rect x="634.14" y="113.2" width="2.6" height="15.2" fill="#ffffff"/>
<rect x="638.42" y="108.9" width="1" height="12.3" fill="rgba(41,98,255,0.95)"/>
<rect x="637.62" y="113.2" width="2.6" height="6.4" fill="#2962ff"/>
<rect x="641.91" y="116.4" width="1" height="19.2" fill="rgba(41,98,255,0.95)"/>
<rect x="641.11" y="118.8" width="2.6" height="9.6" fill="#2962ff"/>
<rect x="645.39" y="114.8" width="1" height="20.8" fill="rgba(255,255,255,0.75)"/>
<rect x="644.59" y="122.8" width="2.6" height="5.6" fill="#ffffff"/>
<rect x="648.87" y="116.9" width="1" height="23" fill="rgba(41,98,255,0.95)"/>
<rect x="648.07" y="122.8" width="2.6" height="6.4" fill="#2962ff"/>
<rect x="652.35" y="124.4" width="1" height="11.2" fill="rgba(255,255,255,0.75)"/>
<rect x="651.55" y="125.6" width="2.6" height="4.1" fill="#ffffff"/>
<rect x="541.1" y="83" width="253" height="1" fill="#cfc040"/>
<rect x="548.2" y="153.5" width="246" height="1" fill="#d8c540"/>
<circle cx="652.8" cy="420" r="7.2" fill="none" stroke="#9b3fd8" stroke-width="1.4"/>
<path d="M644.9 419 L645.9 421.9 L648.6 422.9 L645.9 423.9 L644.9 426.8 L643.9 423.9 L641.2 422.9 L643.9 421.9 Z" fill="#8e52ff"/>
<circle cx="670.6" cy="419.9" r="7.25" fill="#0b0d12" stroke="#e2323f" stroke-width="1.5"/><clipPath id="fc6706"><circle cx="670.6" cy="419.9" r="5.8"/></clipPath><g clip-path="url(#fc6706)"><rect x="664.8" y="414.1" width="11.6" height="11.6" fill="#f34a4f"/><rect x="664.8" y="416.8" width="11.6" height="1.8" fill="#f6f6f6"/><rect x="664.8" y="421" width="11.6" height="2.2" fill="#f6f6f6"/><rect x="664.8" y="414.1" width="7.2" height="6.9" fill="#3f8ef0"/><rect x="666.4" y="415.9" width="0.8" height="0.8" fill="#9cc6fa"/><rect x="668.4" y="415.9" width="0.8" height="0.8" fill="#9cc6fa"/><rect x="670.4" y="415.9" width="0.8" height="0.8" fill="#9cc6fa"/><rect x="666.4" y="418.3" width="0.8" height="0.8" fill="#9cc6fa"/><rect x="668.4" y="418.3" width="0.8" height="0.8" fill="#9cc6fa"/><rect x="670.4" y="418.3" width="0.8" height="0.8" fill="#9cc6fa"/></g>
<circle cx="663.6" cy="419.9" r="7.25" fill="#0b0d12" stroke="#e2323f" stroke-width="1.5"/><clipPath id="fc6636"><circle cx="663.6" cy="419.9" r="5.8"/></clipPath><g clip-path="url(#fc6636)"><rect x="657.8" y="414.1" width="11.6" height="11.6" fill="#f34a4f"/><rect x="657.8" y="416.8" width="11.6" height="1.8" fill="#f6f6f6"/><rect x="657.8" y="421" width="11.6" height="2.2" fill="#f6f6f6"/><rect x="657.8" y="414.1" width="7.2" height="6.9" fill="#3f8ef0"/><rect x="659.4" y="415.9" width="0.8" height="0.8" fill="#9cc6fa"/><rect x="661.4" y="415.9" width="0.8" height="0.8" fill="#9cc6fa"/><rect x="663.4" y="415.9" width="0.8" height="0.8" fill="#9cc6fa"/><rect x="659.4" y="418.3" width="0.8" height="0.8" fill="#9cc6fa"/><rect x="661.4" y="418.3" width="0.8" height="0.8" fill="#9cc6fa"/><rect x="663.4" y="418.3" width="0.8" height="0.8" fill="#9cc6fa"/></g>
<circle cx="656.3" cy="419.9" r="7.25" fill="#0b0d12" stroke="#e2323f" stroke-width="1.5"/><clipPath id="fc6563"><circle cx="656.3" cy="419.9" r="5.8"/></clipPath><g clip-path="url(#fc6563)"><rect x="650.5" y="414.1" width="11.6" height="11.6" fill="#f34a4f"/><rect x="650.5" y="416.8" width="11.6" height="1.8" fill="#f6f6f6"/><rect x="650.5" y="421" width="11.6" height="2.2" fill="#f6f6f6"/><rect x="650.5" y="414.1" width="7.2" height="6.9" fill="#3f8ef0"/><rect x="652.1" y="415.9" width="0.8" height="0.8" fill="#9cc6fa"/><rect x="654.1" y="415.9" width="0.8" height="0.8" fill="#9cc6fa"/><rect x="656.1" y="415.9" width="0.8" height="0.8" fill="#9cc6fa"/><rect x="652.1" y="418.3" width="0.8" height="0.8" fill="#9cc6fa"/><rect x="654.1" y="418.3" width="0.8" height="0.8" fill="#9cc6fa"/><rect x="656.1" y="418.3" width="0.8" height="0.8" fill="#9cc6fa"/></g>
<circle cx="698.0" cy="419.9" r="7.25" fill="#0b0d12" stroke="#e2323f" stroke-width="1.5"/><clipPath id="fc6980"><circle cx="698.0" cy="419.9" r="5.8"/></clipPath><g clip-path="url(#fc6980)"><rect x="692.2" y="414.1" width="11.6" height="11.6" fill="#f34a4f"/><rect x="692.2" y="416.8" width="11.6" height="1.8" fill="#f6f6f6"/><rect x="692.2" y="421" width="11.6" height="2.2" fill="#f6f6f6"/><rect x="692.2" y="414.1" width="7.2" height="6.9" fill="#3f8ef0"/><rect x="693.8" y="415.9" width="0.8" height="0.8" fill="#9cc6fa"/><rect x="695.8" y="415.9" width="0.8" height="0.8" fill="#9cc6fa"/><rect x="697.8" y="415.9" width="0.8" height="0.8" fill="#9cc6fa"/><rect x="693.8" y="418.3" width="0.8" height="0.8" fill="#9cc6fa"/><rect x="695.8" y="418.3" width="0.8" height="0.8" fill="#9cc6fa"/><rect x="697.8" y="418.3" width="0.8" height="0.8" fill="#9cc6fa"/></g>
<circle cx="746.7" cy="419.9" r="7.25" fill="#0b0d12" stroke="#e2323f" stroke-width="1.5"/><clipPath id="fc7467"><circle cx="746.7" cy="419.9" r="5.8"/></clipPath><g clip-path="url(#fc7467)"><rect x="740.9" y="414.1" width="11.6" height="11.6" fill="#f34a4f"/><rect x="740.9" y="416.8" width="11.6" height="1.8" fill="#f6f6f6"/><rect x="740.9" y="421" width="11.6" height="2.2" fill="#f6f6f6"/><rect x="740.9" y="414.1" width="7.2" height="6.9" fill="#3f8ef0"/><rect x="742.5" y="415.9" width="0.8" height="0.8" fill="#9cc6fa"/><rect x="744.5" y="415.9" width="0.8" height="0.8" fill="#9cc6fa"/><rect x="746.5" y="415.9" width="0.8" height="0.8" fill="#9cc6fa"/><rect x="742.5" y="418.3" width="0.8" height="0.8" fill="#9cc6fa"/><rect x="744.5" y="418.3" width="0.8" height="0.8" fill="#9cc6fa"/><rect x="746.5" y="418.3" width="0.8" height="0.8" fill="#9cc6fa"/></g>
<circle cx="768.3" cy="419.9" r="7.25" fill="#0b0d12" stroke="#e2323f" stroke-width="1.5"/><clipPath id="fc7683"><circle cx="768.3" cy="419.9" r="5.8"/></clipPath><g clip-path="url(#fc7683)"><rect x="762.5" y="414.1" width="11.6" height="11.6" fill="#f34a4f"/><rect x="762.5" y="416.8" width="11.6" height="1.8" fill="#f6f6f6"/><rect x="762.5" y="421" width="11.6" height="2.2" fill="#f6f6f6"/><rect x="762.5" y="414.1" width="7.2" height="6.9" fill="#3f8ef0"/><rect x="764.1" y="415.9" width="0.8" height="0.8" fill="#9cc6fa"/><rect x="766.1" y="415.9" width="0.8" height="0.8" fill="#9cc6fa"/><rect x="768.1" y="415.9" width="0.8" height="0.8" fill="#9cc6fa"/><rect x="764.1" y="418.3" width="0.8" height="0.8" fill="#9cc6fa"/><rect x="766.1" y="418.3" width="0.8" height="0.8" fill="#9cc6fa"/><rect x="768.1" y="418.3" width="0.8" height="0.8" fill="#9cc6fa"/></g>
<circle cx="760.6" cy="419.9" r="7.25" fill="#0b0d12" stroke="#e2323f" stroke-width="1.5"/><clipPath id="fc7606"><circle cx="760.6" cy="419.9" r="5.8"/></clipPath><g clip-path="url(#fc7606)"><rect x="754.8" y="414.1" width="11.6" height="11.6" fill="#f34a4f"/><rect x="754.8" y="416.8" width="11.6" height="1.8" fill="#f6f6f6"/><rect x="754.8" y="421" width="11.6" height="2.2" fill="#f6f6f6"/><rect x="754.8" y="414.1" width="7.2" height="6.9" fill="#3f8ef0"/><rect x="756.4" y="415.9" width="0.8" height="0.8" fill="#9cc6fa"/><rect x="758.4" y="415.9" width="0.8" height="0.8" fill="#9cc6fa"/><rect x="760.4" y="415.9" width="0.8" height="0.8" fill="#9cc6fa"/><rect x="756.4" y="418.3" width="0.8" height="0.8" fill="#9cc6fa"/><rect x="758.4" y="418.3" width="0.8" height="0.8" fill="#9cc6fa"/><rect x="760.4" y="418.3" width="0.8" height="0.8" fill="#9cc6fa"/></g>
<rect x="793.7" y="19" width="1.1" height="455" fill="#43464e"/>
<rect x="8" y="429.5" width="786" height="1" fill="#2a2e39"/>
<rect x="8" y="454" width="786" height="1" fill="#4a4d55"/>
<rect x="794" y="454" width="57" height="1" fill="#4a4d55"/>
<text x="7.3" y="14.6" font-size="9.2" fill="#d4d4d4" textLength="280.6" lengthAdjust="spacingAndGlyphs">svillafuerte21 created with TradingView.com, Jul 30, 2025 10:21 UTC</text>
<text x="13.2" y="33.9" font-size="9.2" fill="#d1d4dc" textLength="146.2" lengthAdjust="spacingAndGlyphs">Bitcoin / U.S. Dollar · 12h · BINANCE</text>
<text x="164.6" y="33.9" font-size="9.2" fill="#d1d4dc" textLength="50.8" lengthAdjust="spacingAndGlyphs">O117,934.36</text>
<text x="220.5" y="33.9" font-size="9.2" fill="#d1d4dc" textLength="51" lengthAdjust="spacingAndGlyphs">H118,456.65</text>
<text x="276.8" y="33.9" font-size="9.2" fill="#d1d4dc" textLength="47.4" lengthAdjust="spacingAndGlyphs">L117,406.81</text>
<text x="329.1" y="33.9" font-size="9.2" fill="#d1d4dc" textLength="49.8" lengthAdjust="spacingAndGlyphs">C118,269.81</text>
<text x="383.5" y="33.9" font-size="9.2" fill="#d1d4dc" textLength="76.4" lengthAdjust="spacingAndGlyphs">+344.39 (+0.29%)</text>
<text x="13" y="46.6" font-size="9.2" fill="#d1d4dc" textLength="37.4" lengthAdjust="spacingAndGlyphs">Vol · BTC</text>
<text x="55.5" y="46.6" font-size="9.2" fill="#22ab94" textLength="10.6" lengthAdjust="spacingAndGlyphs">52</text>
<text x="13" y="58.7" font-size="9.2" fill="#d1d4dc" textLength="163.2" lengthAdjust="spacingAndGlyphs">SMAs (50, close, 100, close, 200, close)</text>
<text x="181.9" y="58.7" font-size="9.2" fill="#2962ff" textLength="45.3" lengthAdjust="spacingAndGlyphs">116,342.29</text>
<text x="231.8" y="58.7" font-size="9.2" fill="#43a047" textLength="43.5" lengthAdjust="spacingAndGlyphs">111,334.52</text>
<text x="280.3" y="58.7" font-size="9.2" fill="#f23645" textLength="46.7" lengthAdjust="spacingAndGlyphs">106,668.43</text>
<text x="800.6" y="64.65" font-size="8.9" fill="#c5c8cf" textLength="44.3" lengthAdjust="spacingAndGlyphs">124,000.00</text>
<text x="800.6" y="86.82" font-size="8.9" fill="#c5c8cf" textLength="44.3" lengthAdjust="spacingAndGlyphs">122,000.00</text>
<text x="800.6" y="108.99" font-size="8.9" fill="#c5c8cf" textLength="44.3" lengthAdjust="spacingAndGlyphs">120,000.00</text>
<text x="800.6" y="131.16" font-size="8.9" fill="#c5c8cf" textLength="44.3" lengthAdjust="spacingAndGlyphs">118,000.00</text>
<text x="800.6" y="153.33" font-size="8.9" fill="#c5c8cf" textLength="44.3" lengthAdjust="spacingAndGlyphs">116,000.00</text>
<text x="800.6" y="175.5" font-size="8.9" fill="#c5c8cf" textLength="44.3" lengthAdjust="spacingAndGlyphs">114,000.00</text>
<text x="800.6" y="197.67" font-size="8.9" fill="#c5c8cf" textLength="44.3" lengthAdjust="spacingAndGlyphs">112,000.00</text>
<text x="800.6" y="219.84" font-size="8.9" fill="#c5c8cf" textLength="44.3" lengthAdjust="spacingAndGlyphs">110,000.00</text>
<text x="800.6" y="242.01" font-size="8.9" fill="#c5c8cf" textLength="44.3" lengthAdjust="spacingAndGlyphs">108,000.00</text>
<text x="800.6" y="264.18" font-size="8.9" fill="#c5c8cf" textLength="44.3" lengthAdjust="spacingAndGlyphs">106,000.00</text>
<text x="800.6" y="286.35" font-size="8.9" fill="#c5c8cf" textLength="44.3" lengthAdjust="spacingAndGlyphs">104,000.00</text>
<text x="800.6" y="308.52" font-size="8.9" fill="#c5c8cf" textLength="44.3" lengthAdjust="spacingAndGlyphs">102,000.00</text>
<text x="800.6" y="330.69" font-size="8.9" fill="#c5c8cf" textLength="44.3" lengthAdjust="spacingAndGlyphs">100,000.00</text>
<text x="800.6" y="352.86" font-size="8.9" fill="#c5c8cf" textLength="39.4" lengthAdjust="spacingAndGlyphs">98,000.00</text>
<text x="800.6" y="375.03" font-size="8.9" fill="#c5c8cf" textLength="39.4" lengthAdjust="spacingAndGlyphs">96,000.00</text>
<text x="800.6" y="397.2" font-size="8.9" fill="#c5c8cf" textLength="39.4" lengthAdjust="spacingAndGlyphs">94,000.00</text>
<text x="800.6" y="419.37" font-size="8.9" fill="#c5c8cf" textLength="39.4" lengthAdjust="spacingAndGlyphs">92,000.00</text>
<text x="26.1" y="468" font-size="8.8" fill="#d9dbe0" text-anchor="middle" font-weight="bold">May</text>
<text x="61.3" y="468" font-size="8.8" fill="#c5c8cf" text-anchor="middle">6</text>
<text x="95.8" y="468" font-size="8.8" fill="#c5c8cf" text-anchor="middle">11</text>
<text x="130.8" y="468" font-size="8.8" fill="#c5c8cf" text-anchor="middle">16</text>
<text x="165.8" y="468" font-size="8.8" fill="#c5c8cf" text-anchor="middle">21</text>
<text x="200.8" y="468" font-size="8.8" fill="#c5c8cf" text-anchor="middle">26</text>
<text x="242.1" y="468" font-size="8.8" fill="#d9dbe0" text-anchor="middle" font-weight="bold">Jun</text>
<text x="276.8" y="468" font-size="8.8" fill="#c5c8cf" text-anchor="middle">6</text>
<text x="311.8" y="468" font-size="8.8" fill="#c5c8cf" text-anchor="middle">11</text>
<text x="346.8" y="468" font-size="8.8" fill="#c5c8cf" text-anchor="middle">16</text>
<text x="381.8" y="468" font-size="8.8" fill="#c5c8cf" text-anchor="middle">21</text>
<text x="416.3" y="468" font-size="8.8" fill="#c5c8cf" text-anchor="middle">26</text>
<text x="450.4" y="468" font-size="8.8" fill="#d9dbe0" text-anchor="middle" font-weight="bold">Jul</text>
<text x="485.8" y="468" font-size="8.8" fill="#c5c8cf" text-anchor="middle">6</text>
<text x="520.8" y="468" font-size="8.8" fill="#c5c8cf" text-anchor="middle">11</text>
<text x="555.8" y="468" font-size="8.8" fill="#c5c8cf" text-anchor="middle">16</text>
<text x="590.8" y="468" font-size="8.8" fill="#c5c8cf" text-anchor="middle">21</text>
<text x="625.3" y="468" font-size="8.8" fill="#c5c8cf" text-anchor="middle">26</text>
<text x="666.2" y="468" font-size="8.8" fill="#d9dbe0" text-anchor="middle" font-weight="bold">Aug</text>
<text x="701.8" y="468" font-size="8.8" fill="#c5c8cf" text-anchor="middle">6</text>
<text x="736.8" y="468" font-size="8.8" fill="#c5c8cf" text-anchor="middle">11</text>
<text x="771.8" y="468" font-size="8.8" fill="#c5c8cf" text-anchor="middle">16</text>
<text x="13.7" y="445.3" font-size="9.2" font-weight="bold" fill="#d6d8dd">...</text>
<rect x="796.5" y="22.5" width="52" height="19" rx="3.5" fill="#121212" stroke="#2a2b2f" stroke-width="1"/>
<text x="803.2" y="35" font-size="9.4" fill="#e6e6e6" textLength="17.8" lengthAdjust="spacingAndGlyphs">USD</text>
<path d="M794.3 77.6 H847 a2 2 0 0 1 2 2 V87.2 a2 2 0 0 1 -2 2 H794.3 Z" fill="#f7e437"/>
<text x="800.6" y="86" font-size="8.9" fill="#131722" textLength="44" lengthAdjust="spacingAndGlyphs">122,077.61</text>
<path d="M794.3 120 H847 a2 2 0 0 1 2 2 V138.7 a2 2 0 0 1 -2 2 H794.3 Z" fill="#ffffff"/>
<text x="800.6" y="127.6" font-size="8.9" fill="#131722" textLength="44" lengthAdjust="spacingAndGlyphs">118,269.81</text>
<text x="800" y="137" font-size="8.9" fill="#5d606b" textLength="34.7" lengthAdjust="spacingAndGlyphs">01:38:20</text>
<path d="M794.3 148.1 H847 a2 2 0 0 1 2 2 V157.3 a2 2 0 0 1 -2 2 H794.3 Z" fill="#f7e437"/>
<text x="800.6" y="155.6" font-size="8.9" fill="#131722" textLength="44" lengthAdjust="spacingAndGlyphs">115,724.12</text>
<g fill="#d9d9d9"><path d="M7 483.3 H14.2 V490.6 H11 V485.6 H7 Z"/><circle cx="16.2" cy="484.6" r="1.3"/><path d="M18.4 483.3 H21.2 L18 490.6 H15.2 Z"/></g>
<text x="24.2" y="490.9" font-size="10.2" fill="#d8d8d8" textLength="53.2" lengthAdjust="spacingAndGlyphs" stroke="#d8d8d8" stroke-width="0.2">TradingView</text>
</svg>
</body></html>
